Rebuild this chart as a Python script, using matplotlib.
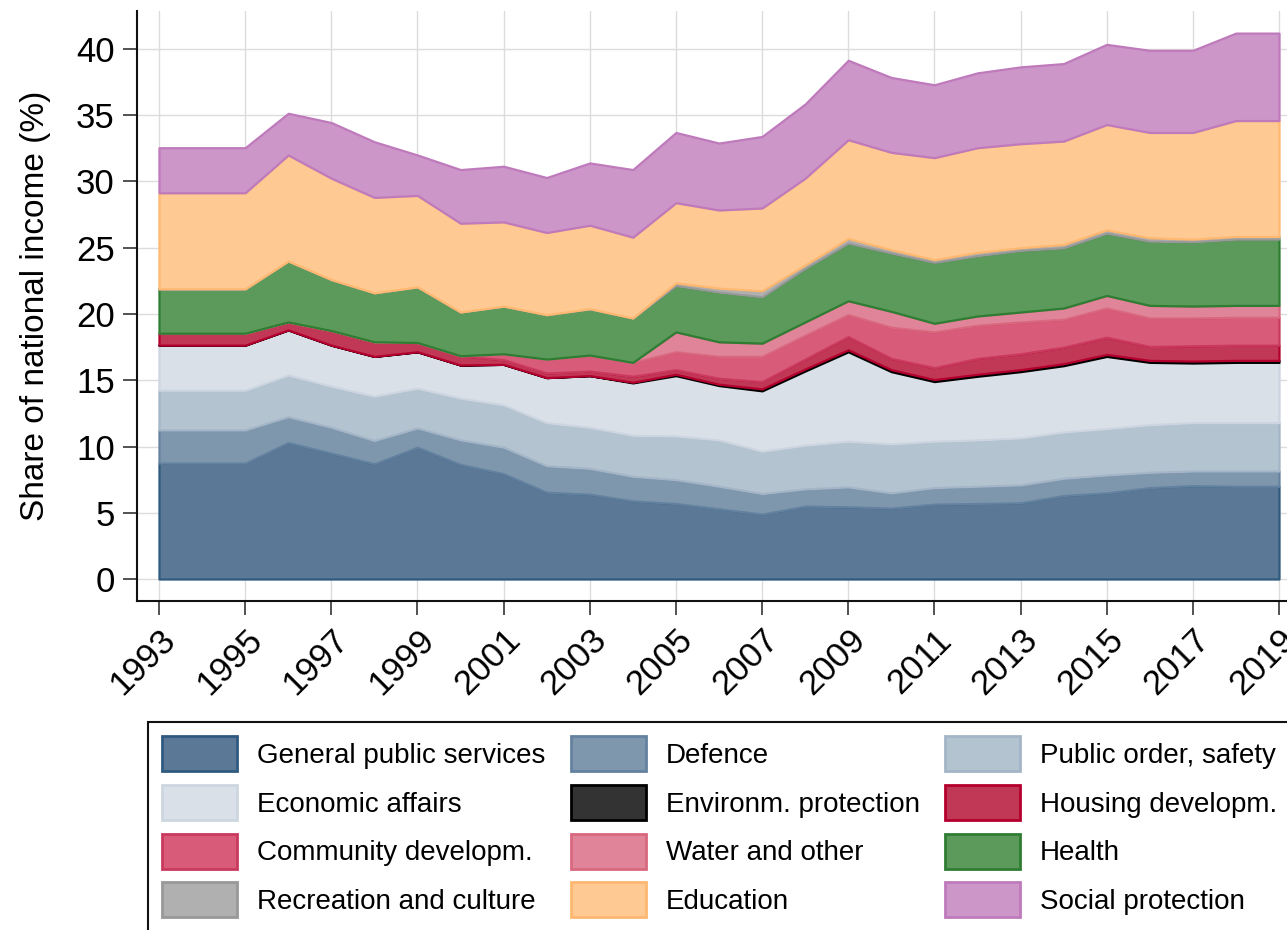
import numpy as np
import matplotlib
matplotlib.use("Agg")
import matplotlib.pyplot as plt
from matplotlib.patches import Patch

plt.rcParams['font.family'] = ['Liberation Sans', 'DejaVu Sans']

years = list(range(1993, 2020))

general = [8.75, 8.75, 8.75, 10.3, 9.5, 8.7, 9.95,
           8.65, 7.95, 6.55, 6.4, 5.9, 5.7, 5.3, 4.9, 5.5, 5.45,
           5.35, 5.65, 5.7, 5.75, 6.3, 6.5, 6.9, 7.05, 7.0, 7.0]
defence = [2.5, 2.5, 2.5, 1.95, 1.95, 1.75, 1.45,
           1.85, 2.0, 2.0, 1.95, 1.85, 1.8, 1.7, 1.55, 1.3, 1.5,
           1.15, 1.25, 1.3, 1.35, 1.3, 1.35, 1.15, 1.1, 1.15, 1.15]
public_order = [3.0, 3.0, 3.0, 3.15, 3.1, 3.35, 3.0,
                3.15, 3.2, 3.25, 3.1, 3.1, 3.3, 3.5, 3.2, 3.3, 3.45,
                3.7, 3.5, 3.5, 3.55, 3.5, 3.5, 3.6, 3.65, 3.65, 3.65]
economic = [3.4, 3.4, 3.4, 3.4, 3.1, 3.0, 2.75,
            2.5, 3.05, 3.4, 3.9, 3.95, 4.55, 4.1, 4.55, 5.6, 6.75,
            5.45, 4.5, 4.8, 5.0, 5.0, 5.45, 4.7, 4.5, 4.55, 4.55]
environment = [0, 0, 0, 0, 0, 0, 0,
               0, 0, 0, 0, 0.05, 0.1, 0.1, 0.15, 0.15, 0.15,
               0.15, 0.15, 0.15, 0.15, 0.15, 0.15, 0.15, 0.15, 0.15, 0.15]
housing = [0.9, 0.9, 0.9, 0.6, 1.1, 1.1, 0.7,
           0.7, 0.35, 0.35, 0.35, 0.45, 0.35, 0.45, 0.55, 0.75, 1.0,
           0.85, 0.9, 1.2, 1.2, 1.25, 1.3, 1.05, 1.15, 1.15, 1.15]
community = [0, 0, 0, 0, 0, 0, 0,
             0, 0.45, 1.05, 1.2, 1.05, 1.35, 1.65, 1.9, 1.8, 1.65,
             2.35, 2.7, 2.5, 2.4, 2.1, 2.2, 2.15, 2.1, 2.1, 2.1]
water = [0, 0, 0, 0, 0, 0, 0,
         0, 0, 0, 0, 0, 1.5, 1.1, 1.0, 1.0, 1.05,
         1.2, 0.65, 0.7, 0.75, 0.85, 0.95, 0.95, 0.9, 0.9, 0.9]
health = [3.35, 3.35, 3.35, 4.6, 3.85, 3.7, 4.2,
          3.3, 3.6, 3.35, 3.5, 3.35, 3.5, 3.75, 3.5, 4.05, 4.35,
          4.4, 4.6, 4.55, 4.65, 4.55, 4.7, 4.85, 4.85, 5.0, 5.0]
recreation = [0, 0, 0, 0, 0, 0, 0,
              0, 0, 0, 0, 0, 0.2, 0.3, 0.45, 0.25, 0.35,
              0.25, 0.2, 0.25, 0.2, 0.25, 0.25, 0.25, 0.2, 0.2, 0.2]
education = [7.25, 7.25, 7.25, 8.0, 7.65, 7.2, 6.9,
             6.7, 6.35, 6.2, 6.3, 6.1, 6.05, 5.9, 6.25, 6.55, 7.45,
             7.35, 7.7, 7.9, 7.85, 7.8, 7.95, 7.95, 8.05, 8.75, 8.75]
social = [3.4, 3.4, 3.4, 3.15, 4.2, 4.2, 3.05,
          4.05, 4.2, 4.15, 4.7, 5.1, 5.3, 5.05, 5.4, 5.6, 6.0,
          5.65, 5.5, 5.65, 5.8, 5.85, 6.05, 6.2, 6.2, 6.6, 6.6]

labels = ["General public services", "Defence", "Public order, safety",
          "Economic affairs", "Environm. protection", "Housing developm.",
          "Community developm.", "Water and other", "Health",
          "Recreation and culture", "Education", "Social protection"]
series = [general, defence, public_order, economic, environment, housing,
          community, water, health, recreation, education, social]
faces = ['#5b7996', '#7f97ad', '#b4c3d0', '#d9e0e8', '#333333', '#c03856',
         '#d85b7a', '#e0849a', '#5c9a5c', '#b0b0b0', '#ffc994', '#cc96c9']
edges = ['#2f5a80', '#6482a0', '#a3b5c6', '#cdd6e0', '#000000', '#b4002e',
         '#c93a5e', '#d9687f', '#2e7d32', '#999999', '#ffb870', '#bf7abc']

W, H = 1287, 930
fig = plt.figure(figsize=(W / 100, H / 100), dpi=100)
ax = fig.add_axes([137 / W, 1 - 601 / H, (W - 137) / W, (601 - 11) / H])

x = np.array(years, dtype=float)
base = np.zeros(len(years))
for vals, fc, ec in zip(series, faces, edges):
    top = base + np.array(vals, dtype=float)
    ax.fill_between(x, base, top, facecolor=fc, edgecolor=ec, linewidth=1.6, zorder=2)
    base = top

ax.set_xlim(1993 - 22 / 43.08, 2019 + 8 / 43.08)
ax.set_ylim(-22 / 13.25, 568 / 13.25)
ax.set_xticks(years[::2])
ax.set_xticklabels([str(y) for y in years[::2]], rotation=45, ha='right',
                   rotation_mode='anchor', fontsize=25)
ax.set_yticks(range(0, 45, 5))
ax.set_yticklabels([str(v) for v in range(0, 45, 5)], fontsize=25)
ax.tick_params(axis='both', length=10, width=1.1, color='#222222', pad=6)
ax.grid(True, color='#dcdcdc', linewidth=1.0, zorder=0)
ax.set_axisbelow(True)
for s in ['top', 'right']:
    ax.spines[s].set_visible(False)
for s in ['left', 'bottom']:
    ax.spines[s].set_linewidth(1.5)
    ax.spines[s].set_color('#111111')
ax.set_ylabel("Share of national income (%)", fontsize=24, labelpad=18)

handles = [Patch(facecolor=fc, edgecolor=ec, linewidth=2.0) for fc, ec in zip(faces, edges)]
order = [0, 3, 6, 9, 1, 4, 7, 10, 2, 5, 8, 11]
leg = fig.legend([handles[i] for i in order], [labels[i] for i in order],
                 loc='upper left', bbox_to_anchor=(148 / W, 1 - 722 / H),
                 bbox_transform=fig.transFigure, ncol=3, fontsize=20,
                 frameon=True, fancybox=False, framealpha=1, edgecolor='#111111',
                 handlelength=2.7, handleheight=1.55, handletextpad=0.72,
                 columnspacing=0.9, labelspacing=0.5, borderpad=0.52,
                 borderaxespad=0)
leg.get_frame().set_linewidth(1.5)

fig.savefig("out.png", dpi=100)
